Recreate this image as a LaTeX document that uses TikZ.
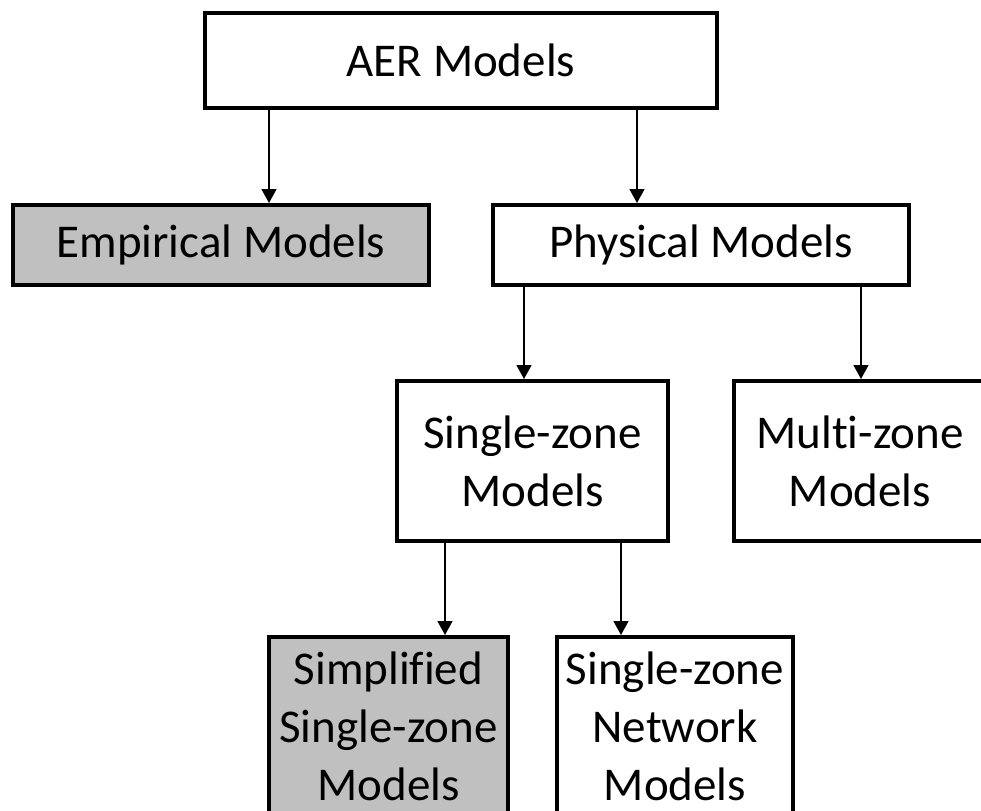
\documentclass[tikz,border=0pt]{standalone}
\usepackage{fontspec}
\setmainfont{Carlito}[Ligatures=NoCommon]
\usetikzlibrary{arrows.meta}
\definecolor{boxGray}{HTML}{C0C0C0}

\tikzset{
  mbox/.style={rectangle,draw=black,line width=2pt,align=center,inner sep=0pt,
    font=\fontsize{23.5}{29}\selectfont},
  gbox/.style={mbox,fill=boxGray},
  arr/.style={black,line width=0.75pt,-{Triangle[length=7pt,width=7.5pt]}}
}

\begin{document}
\begin{tikzpicture}[x=0.5pt,y=-0.5pt]
  \useasboundingbox (0,0) rectangle (981,810);
  \clip (0,0) rectangle (981,810);
  \node[mbox,minimum width=256pt,minimum height=47.5pt] (aer) at (461,60.5) {AER Models};
  \node[gbox,minimum width=208pt,minimum height=40pt] (emp) at (221,245) {Empirical Models};
  \node[mbox,minimum width=208pt,minimum height=40pt] (phys) at (701,245) {Physical Models};
  \node[mbox,minimum width=135.5pt,minimum height=80pt] (single) at (532.5,461) {Single-zone\\Models};
  \node[mbox,minimum width=126pt,minimum height=80pt] (multi) at (860,461) {Multi-zone\\Models};
  \node[gbox,minimum width=119.5pt,minimum height=89pt] (simpl) at (388.5,726) {Simplified\\Single-zone\\Models};
  \node[mbox,minimum width=118pt,minimum height=89pt] (netw) at (675,726) {Single-zone\\Network\\Models};
  % vertical links, off-centre like the hand drawn original
  \draw[arr] (aer.south -| 269,0) -- (emp.north -| 269,0);
  \draw[arr] (aer.south -| 637,0) -- (phys.north -| 637,0);
  \draw[arr] (phys.south -| 524,0) -- (single.north -| 524,0);
  \draw[arr] (phys.south -| 861,0) -- (multi.north -| 861,0);
  \draw[arr] (single.south -| 445,0) -- (simpl.north -| 445,0);
  \draw[arr] (single.south -| 621,0) -- (netw.north -| 621,0);
\end{tikzpicture}
\end{document}
